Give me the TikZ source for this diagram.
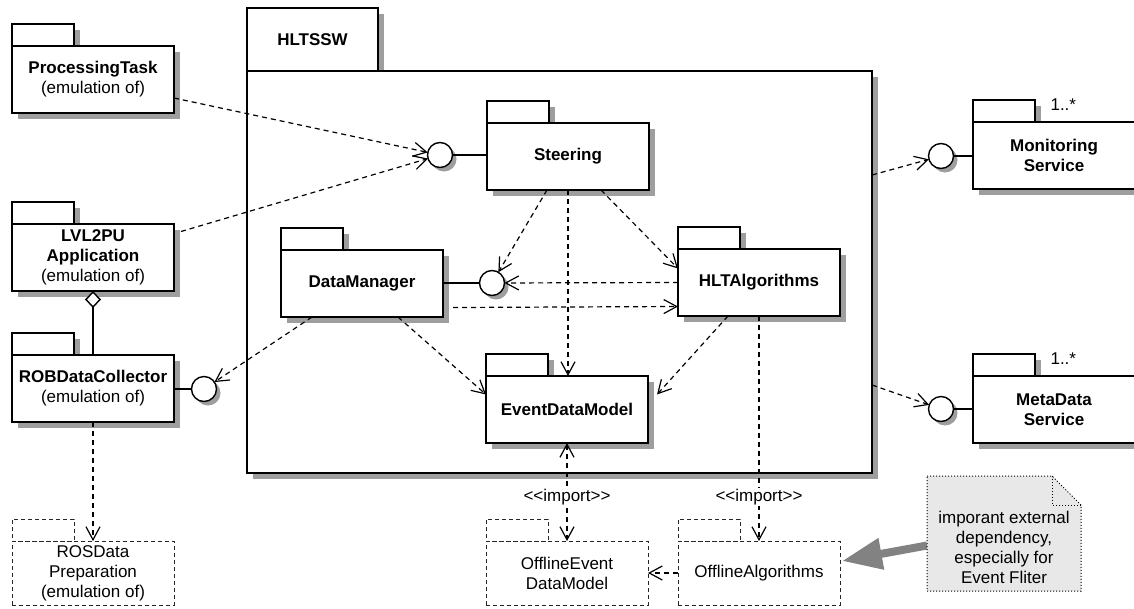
\documentclass[tikz,border=0pt]{standalone}
\usepackage{fontspec}
\setmainfont{Liberation Sans}
\usetikzlibrary{positioning,arrows.meta}

\definecolor{shadegray}{RGB}{158,158,158}
\definecolor{notegray}{RGB}{232,232,232}
\definecolor{arrowgray}{RGB}{130,130,130}
\newcommand{\diagfont}{\fontsize{17}{20}\selectfont}
\newcommand{\imp}{<\kern0pt<import>\kern0pt>}

\tikzset{
  pkgtab/.style={draw,line width=1.4pt,fill=white,minimum width=62pt,minimum height=22pt,
    inner sep=0pt,outer sep=0pt,anchor=north west},
  pkgbody/.style={draw,line width=1.4pt,fill=white,minimum width=162pt,minimum height=67pt,
    inner sep=0pt,outer sep=0pt,align=center,anchor=north west,font=\diagfont\bfseries},
  exttab/.style={draw=black!85,line width=1pt,dash pattern=on 4pt off 3pt,minimum width=62pt,
    minimum height=22pt,inner sep=0pt,outer sep=0pt,anchor=north west},
  extbody/.style={draw=black!85,line width=1pt,dash pattern=on 4pt off 3pt,minimum width=162pt,
    minimum height=64pt,inner sep=0pt,outer sep=0pt,align=center,anchor=north west},
  iface/.style={circle,draw,line width=1.4pt,fill=white,minimum size=25pt,inner sep=0pt,outer sep=0pt},
  dep/.style={line width=1.2pt,dash pattern=on 5pt off 4pt,->},
  link/.style={line width=1.4pt},
  lbl/.style={fill=white,inner sep=1pt},
}

\begin{document}
\begin{tikzpicture}[x=1pt,y=-1pt,font=\diagfont,
  >={Straight Barb[length=13pt,width=14pt,line width=1.2pt]}]
  \useasboundingbox (0,0) rectangle (1134,608);

  % the HLTSSW package
  \fill[shadegray] (253,14) rectangle (384,77);
  \node[pkgtab,minimum width=131pt,minimum height=63pt,font=\diagfont\bfseries] (hltssw-tab) at (247,8) {HLTSSW};
  \fill[shadegray] (253,77) rectangle (878,479);
  \node[pkgbody,minimum width=625pt,minimum height=402pt] (hltssw) at (hltssw-tab.south west) {};

  % packages
  \foreach \nm/\px/\py/\txt in {
    ptask/12/24/{ProcessingTask\\{\mdseries(emulation of)}},
    lvl2/12/202/{LVL2PU\\Application\\{\mdseries(emulation of)}},
    robdc/12/333/{ROBDataCollector\\{\mdseries(emulation of)}},
    mon/973/100/{Monitoring\\Service},
    meta/973/354/{MetaData\\Service},
    steer/487/101/{Steering},
    dman/281/228/{DataManager},
    hltalg/678/227/{HLTAlgorithms},
    edm/486/354/{EventDataModel}}{
    \fill[shadegray] (\px+6,\py+6) rectangle (\px+68,\py+28);
    \node[pkgtab] (\nm-tab) at (\px,\py) {};
    \fill[shadegray] (\px+6,\py+28) rectangle (\px+168,\py+95);
    \node[pkgbody] (\nm) at (\nm-tab.south west) {\txt};
  }

  % external packages
  \foreach \nm/\px/\py/\txt in {
    rosdp/12/519/{ROSData\\Preparation\\(emulation of)},
    offedm/486/519/{OfflineEvent\\DataModel},
    offalg/678/519/{OfflineAlgorithms}}{
    \node[exttab] (\nm-tab) at (\px,\py) {};
    \node[extbody] (\nm) at (\nm-tab.south west) {\txt};
  }

  \node[anchor=west] (mon-mult) at ([xshift=12pt,yshift=-5pt]mon-tab.north east) {1..*};
  \node[anchor=west] (meta-mult) at ([xshift=12pt,yshift=-5pt]meta-tab.north east) {1..*};

  % interfaces
  \foreach \nm/\px/\py in {steer/440/155, dman/492/283, rob/204/389, mon/941/156, meta/941/409}{
    \fill[shadegray] (\px+4,\py+4) circle[radius=12.5];
    \node[iface] (if-\nm) at (\px,\py) {};
  }

  \draw[link] (if-steer) -- (if-steer -| steer.west);
  \draw[link] (if-dman) -- (if-dman -| dman.east);
  \draw[link] (if-rob) -- (if-rob -| robdc.east);
  \draw[link] (if-mon) -- (if-mon -| mon.west);
  \draw[link] (if-meta) -- (if-meta -| meta.west);
  \draw[link,{Diamond[fill=white,length=17pt,width=16pt,line width=1.4pt]}-] (lvl2.south) -- (robdc.north);

  % dependencies
  \draw[dep] ([yshift=-18.5pt]ptask.east) -- (if-steer);
  \draw[dep] ([xshift=7pt,yshift=26pt]lvl2.east) -- (if-steer);
  \draw[dep] ([xshift=-50pt]dman.south) -- (if-rob);
  \draw[dep] ([xshift=-21pt]steer.south) -- (if-dman);
  \draw[dep] (steer.south) -- (steer.south |- edm.north);
  \draw[dep] ([xshift=33pt]steer.south) -- ([yshift=14pt]hltalg.west);
  \draw[dep] (hltalg.west) -- (if-dman);
  \draw[dep] ([xshift=10pt,yshift=-24pt]dman.east) -- ([yshift=-24pt]hltalg.west);
  \draw[dep] ([xshift=36pt]dman.south) -- ([yshift=15pt]edm.west);
  \draw[dep] ([xshift=-31pt]hltalg.south) -- ([xshift=9pt,yshift=15pt]edm.east);
  \draw[dep] (hltalg.south) -- (offalg.north) node[lbl,pos=0.805] {\imp};
  \draw[dep,<->] (edm.south) -- (offedm.north) node[lbl,pos=0.556] {\imp};
  \draw[dep] (offalg.west) -- (offedm.east);
  \draw[dep] ([yshift=97pt]hltssw.east) -- (if-mon);
  \draw[dep] ([yshift=-113pt]hltssw.east) -- (if-meta);
  \draw[dep] (robdc.south) -- (rosdp.north);

  % note
  \node[minimum width=154pt,minimum height=115pt,inner sep=0pt,outer sep=0pt] (note) at (1004,533.5) {};
  \draw[line width=8pt,arrowgray,-{Triangle[length=40pt,width=30pt]}] ([yshift=-12pt]note.west) -- ([xshift=2pt,yshift=12pt]offalg.east);
  \draw[line width=1pt,dotted,fill=notegray] (note.north west) -- ([xshift=-29pt]note.north east)
    -- ([yshift=-29pt]note.north east) -- (note.south east) -- (note.south west) -- cycle;
  \draw[line width=1pt,dotted] ([xshift=-29pt]note.north east) |- ([yshift=-29pt]note.north east);
  \node[align=center] (note-txt) at ([yshift=-14pt]note.center) {imporant external\\dependency,\\especially for\\Event Fliter};
\end{tikzpicture}
\end{document}
